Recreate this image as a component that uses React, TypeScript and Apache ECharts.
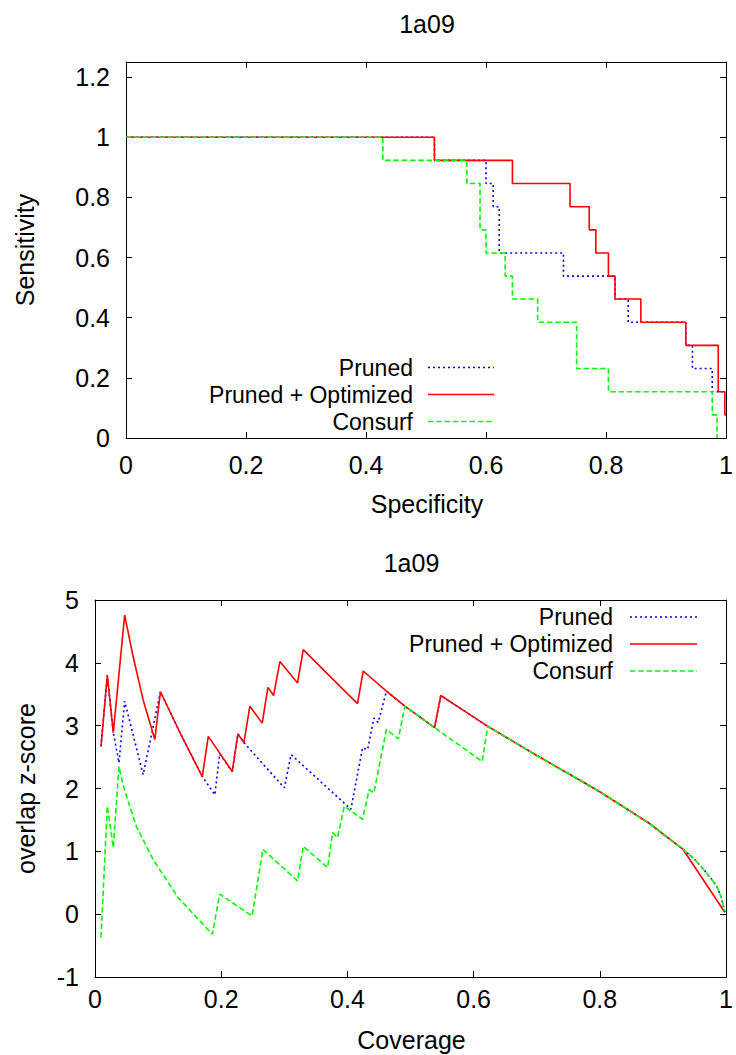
import React, { useEffect, useRef } from 'react';
import * as echarts from 'echarts';

// ---------- data ----------
const chartTitle = '1a09';
const seriesNames = ['Pruned', 'Pruned + Optimized', 'Consurf'];

// ROC-like step curves: [specificity, sensitivity] (sensitivity holds until next x)
const rocPruned: [number, number][] = [
  [0, 1], [0.514, 0.923], [0.600, 0.846], [0.612, 0.769], [0.622, 0.615],
  [0.729, 0.538], [0.815, 0.462], [0.837, 0.385], [0.933, 0.308], [0.944, 0.231],
  [0.977, 0.154], [1, 0.154],
];
const rocOptimized: [number, number][] = [
  [0, 1], [0.514, 0.923], [0.644, 0.846], [0.740, 0.769], [0.772, 0.692],
  [0.783, 0.615], [0.804, 0.538], [0.815, 0.462], [0.858, 0.385], [0.933, 0.308],
  [0.987, 0.154], [0.998, 0.077], [1, 0.077],
];
const rocConsurf: [number, number][] = [
  [0, 1], [0.428, 0.923], [0.568, 0.846], [0.590, 0.692], [0.600, 0.615],
  [0.632, 0.538], [0.644, 0.462], [0.686, 0.385], [0.751, 0.231], [0.804, 0.154],
  [0.977, 0.077], [0.985, 0],
];

// overlap z-score vs coverage
const covPruned: [number, number][] = [
  [0.0095, 2.67], [0.0195, 3.80], [0.029, 2.89], [0.038, 2.41], [0.047, 3.39],
  [0.0763, 2.22], [0.1037, 3.54], [0.137, 2.84], [0.170, 2.19], [0.19, 1.90],
  [0.1975, 2.55], [0.2175, 2.27], [0.2265, 2.87], [0.236, 2.73], [0.300, 2.01],
  [0.3107, 2.54], [0.4055, 1.67], [0.424, 2.65], [0.432, 2.62], [0.442, 3.12],
  [0.4487, 3.05], [0.4618, 3.55], [0.491, 3.31], [0.538, 2.97], [0.548, 3.48],
  [0.6224, 2.99], [0.6925, 2.57], [0.798, 1.96], [0.877, 1.455], [0.932, 1.03],
  [0.9505, 0.87], [0.969, 0.66], [0.985, 0.45], [0.9926, 0.265], [0.998, 0.03],
];
const covOptimized: [number, number][] = [
  [0.0095, 2.67], [0.0195, 3.80], [0.029, 2.89], [0.047, 4.76], [0.0604, 4.10],
  [0.0763, 3.41], [0.0948, 2.78], [0.1037, 3.54], [0.137, 2.84], [0.170, 2.19],
  [0.1795, 2.83], [0.2175, 2.27], [0.2265, 2.87], [0.236, 2.73], [0.2454, 3.31],
  [0.265, 3.04], [0.274, 3.61], [0.283, 3.48], [0.293, 4.02], [0.321, 3.68],
  [0.330, 4.21], [0.3728, 3.78], [0.416, 3.35], [0.425, 3.87], [0.4618, 3.55],
  [0.491, 3.31], [0.538, 2.97], [0.548, 3.48], [0.5845, 3.24], [0.6224, 2.99],
  [0.6925, 2.57], [0.798, 1.96], [0.877, 1.455], [0.932, 1.03], [0.998, 0.03],
];
const covConsurf: [number, number][] = [
  [0.0095, -0.37], [0.0195, 1.72], [0.029, 1.06], [0.038, 2.35], [0.0447, 2.04],
  [0.0658, 1.39], [0.092, 0.87], [0.1316, 0.265], [0.186, -0.32], [0.1975, 0.32],
  [0.249, -0.03], [0.266, 1.03], [0.321, 0.53], [0.330, 1.08], [0.3686, 0.74],
  [0.3765, 1.30], [0.3844, 1.22], [0.395, 1.72], [0.424, 1.51], [0.4344, 1.98],
  [0.442, 1.93], [0.4618, 2.94], [0.4807, 2.79], [0.491, 3.31], [0.538, 2.97],
  [0.6135, 2.43], [0.6224, 2.99], [0.6925, 2.57], [0.798, 1.96], [0.877, 1.455],
  [0.932, 1.03], [0.9505, 0.87], [0.969, 0.66], [0.985, 0.45], [0.9926, 0.265],
  [0.998, 0.05],
];

// ---------- styles ----------
const FONT = '"Liberation Sans", Arial, Helvetica, sans-serif';
const FS = 25;
const LEGEND_FS = 23;
const COLORS = ['#0000ff', '#ff0000', '#00ff00'];
const DASHES: (number[] | 'solid')[] = [[2, 3], 'solid', [5.5, 2.8]];
const LW = 1.6;

const G1 = { left: 126, top: 62, width: 602, height: 376 };
const G2 = { left: 95, top: 600, width: 633, height: 377 };

function xAxis(gridIndex: number, position: 'top' | 'bottom', showLabel: boolean, margin: number) {
  return {
    type: 'value', gridIndex, position, min: 0, max: 1, interval: 0.2,
    axisLine: { show: true, onZero: false, lineStyle: { color: '#000', width: 1 } },
    axisTick: { show: true, inside: true, length: 6, lineStyle: { color: '#000', width: 1 } },
    axisLabel: { show: showLabel, margin, fontSize: FS, color: '#000', fontFamily: FONT },
    splitLine: { show: false },
  };
}
function yAxis(gridIndex: number, position: 'left' | 'right', showLabel: boolean,
  min: number, max: number, interval: number) {
  return {
    type: 'value', gridIndex, position, min, max, interval,
    axisLine: { show: true, onZero: false, lineStyle: { color: '#000', width: 1 } },
    axisTick: { show: true, inside: true, length: 6, lineStyle: { color: '#000', width: 1 } },
    axisLabel: { show: showLabel, margin: 16, fontSize: FS, color: '#000', fontFamily: FONT, showMaxLabel: max === 1.25 ? false : true },
    splitLine: { show: false },
  };
}

function lineSeries(name: string, idx: number, data: [number, number][], xi: number, yi: number, step?: string) {
  return {
    type: 'line', name, data, xAxisIndex: xi, yAxisIndex: yi,
    step: step || false, symbol: 'none', showSymbol: false, clip: true, z: 2 + idx,
    lineStyle: { color: COLORS[idx], width: LW, type: DASHES[idx] },
    itemStyle: { color: COLORS[idx] },
  };
}

function textEl(text: string, x: number, y: number, align: string, rotation = 0, fontSize = FS) {
  return {
    type: 'text', x, y, rotation,
    style: {
      text, fill: '#000', fontSize, fontFamily: FONT,
      align, verticalAlign: 'middle', textAlign: align, textVerticalAlign: 'middle',
    },
  };
}

function legendEls(textRight: number, x1: number, x2: number, ys: number[]) {
  const els: any[] = [];
  seriesNames.forEach((n, i) => {
    els.push(textEl(n, textRight, ys[i], 'right', 0, LEGEND_FS));
    els.push({
      type: 'line',
      shape: { x1, y1: ys[i], x2, y2: ys[i] },
      style: {
        stroke: COLORS[i], lineWidth: LW,
        lineDash: DASHES[i] === 'solid' ? null : DASHES[i],
      },
    });
  });
  return els;
}

export default function App() {
  const ref = useRef<HTMLDivElement>(null);
  useEffect(() => {
    if (!ref.current) return;
    const chart = echarts.init(ref.current, undefined, { renderer: 'svg' });
    const option: any = {
      animation: false,
      backgroundColor: '#fff',
      grid: [
        { ...G1, containLabel: false },
        { ...G2, containLabel: false },
      ],
      xAxis: [
        xAxis(0, 'bottom', true, 14),
        xAxis(0, 'top', false, 8),
        xAxis(1, 'bottom', true, 9),
        xAxis(1, 'top', false, 8),
      ],
      yAxis: [
        yAxis(0, 'left', true, 0, 1.25, 0.2),
        yAxis(0, 'right', false, 0, 1.25, 0.2),
        yAxis(1, 'left', true, -1, 5, 1),
        yAxis(1, 'right', false, -1, 5, 1),
      ],
      series: [
        lineSeries(seriesNames[0], 0, rocPruned, 0, 0, 'end'),
        lineSeries(seriesNames[1], 1, rocOptimized, 0, 0, 'end'),
        lineSeries(seriesNames[2], 2, rocConsurf, 0, 0, 'end'),
        lineSeries(seriesNames[0], 0, covPruned, 2, 2),
        lineSeries(seriesNames[1], 1, covOptimized, 2, 2),
        lineSeries(seriesNames[2], 2, covConsurf, 2, 2),
      ],
      graphic: [
        textEl(chartTitle, 427, 24, 'center'),
        textEl(chartTitle, 411.5, 563, 'center'),
        textEl('Specificity', 427, 504, 'center'),
        textEl('Coverage', 411.5, 1040, 'center'),
        textEl('Sensitivity', 25, 250, 'center', Math.PI / 2),
        textEl('overlap z-score', 26, 788.5, 'center', Math.PI / 2),
        ...legendEls(413, 428, 494, [367.5, 394.5, 421.5]),
        ...legendEls(613, 630, 697, [617, 644, 671]),
      ],
    };
    chart.setOption(option);
    return () => chart.dispose();
  }, []);
  return (
    <div
      ref={ref}
      style={{ position: 'absolute', left: 0, top: 0, width: 736, height: 1055, background: '#fff' }}
    />
  );
}
